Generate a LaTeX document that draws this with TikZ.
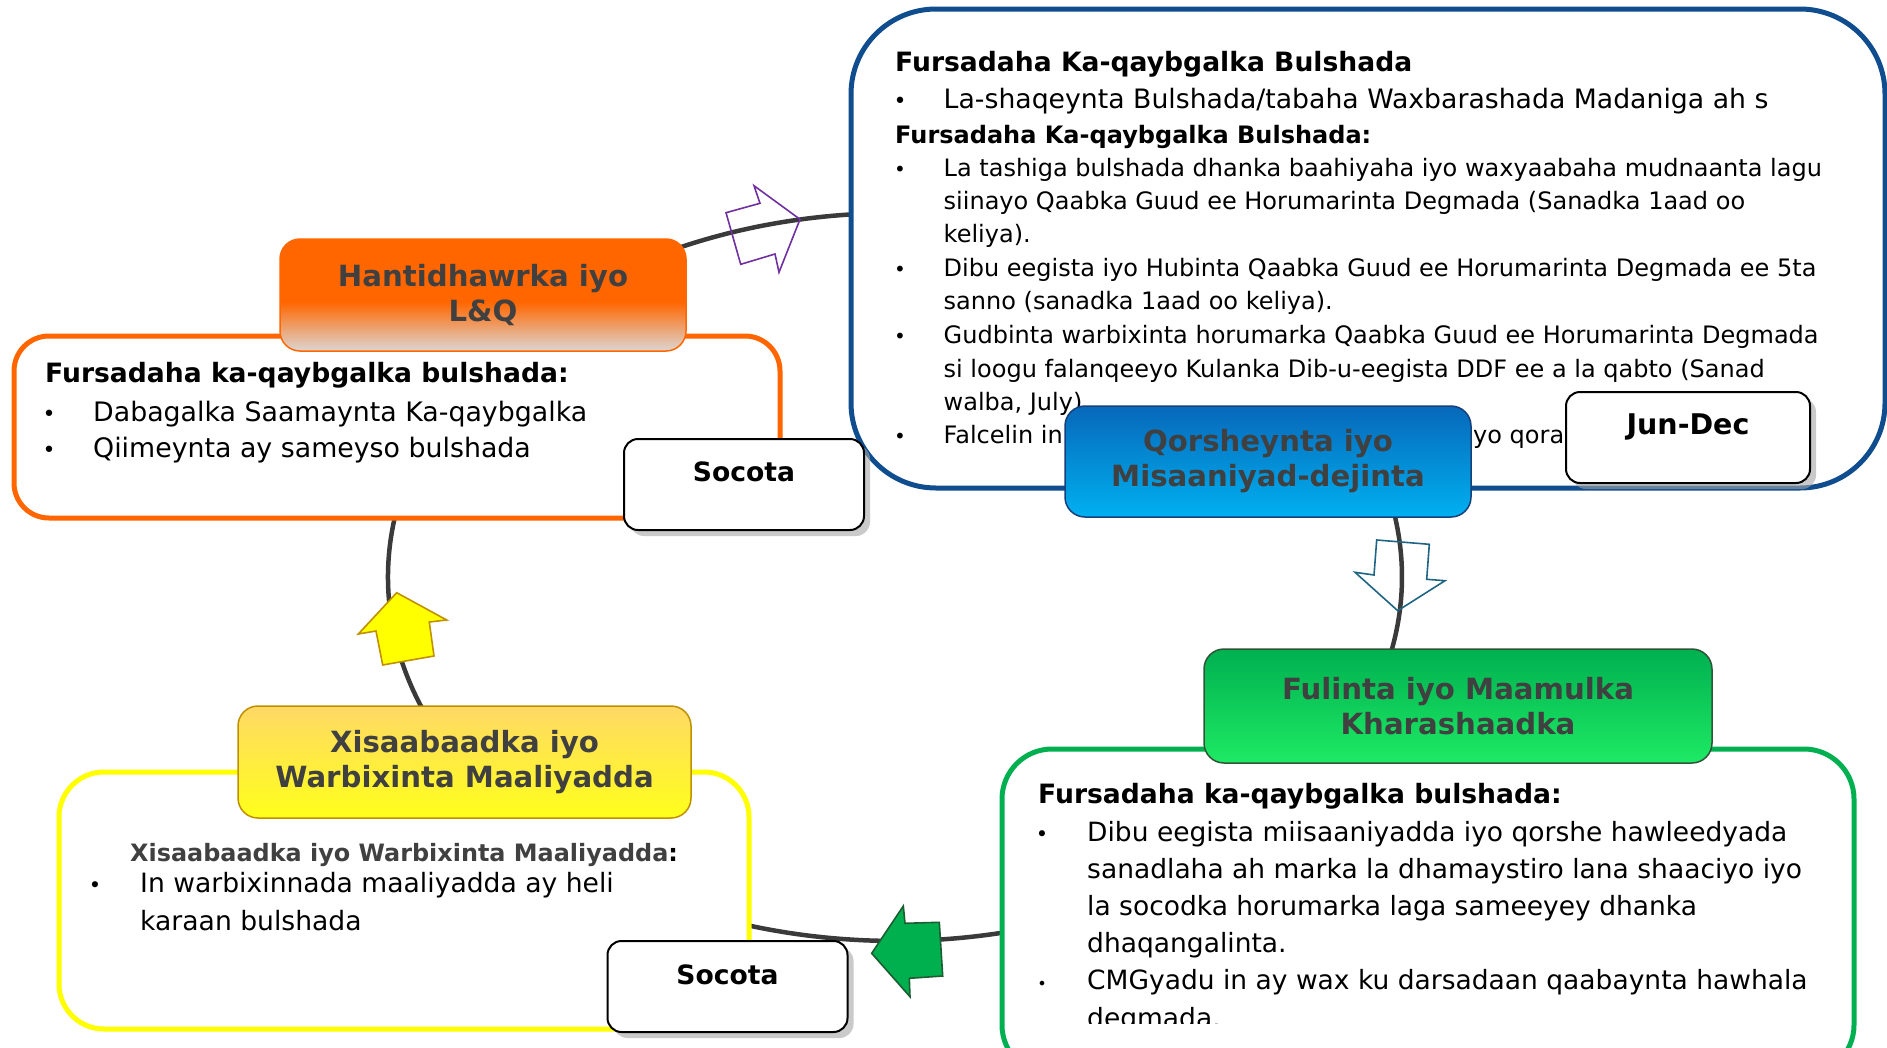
\documentclass[tikz,border=0pt]{standalone}
\usepackage{fontspec}
\setmainfont{DejaVu Sans}
\usetikzlibrary{shadows}
\definecolor{connc}{HTML}{3A3A3A}
\definecolor{bluebd}{HTML}{0F4D8F}
\definecolor{orangebd}{HTML}{FF6600}
\definecolor{orangelow}{HTML}{DCD6D2}
\definecolor{yellowbd}{HTML}{FFFF00}
\definecolor{greenbd}{HTML}{00B050}
\definecolor{titletext}{HTML}{404040}
\definecolor{bluetop}{HTML}{0768BA}
\definecolor{bluebot}{HTML}{00B0F0}
\definecolor{bluetbd}{HTML}{17407A}
\definecolor{greentop}{HTML}{00B050}
\definecolor{greenbot}{HTML}{1EEA64}
\definecolor{greentbd}{HTML}{2F5438}
\definecolor{yeltop}{HTML}{FFD966}
\definecolor{yelbot}{HTML}{FFFF1A}
\definecolor{yeltbd}{HTML}{BF9000}
\definecolor{purplearr}{HTML}{7030A0}
\definecolor{tealarr}{HTML}{1F6482}
\definecolor{greenarr}{HTML}{00B04F}
\definecolor{greenarrbd}{HTML}{1B5E32}
\pgfdeclareverticalshading{orangeshade}{100bp}{color(0bp)=(orangelow); color(25bp)=(orangelow); color(47bp)=(orangebd); color(100bp)=(orangebd)}
\begin{document}
\begin{tikzpicture}[x=1pt,y=-1pt,
  connline/.style={draw=connc, line width=4.5pt},
  contentbox/.style={draw, line width=5pt, fill=white, inner sep=0pt},
  titlebox/.style={rounded corners=20pt, line width=1.5pt, inner sep=0pt, align=center, text=titletext, font=\fontsize{29.2}{35}\selectfont\bfseries},
  sbox/.style={draw=black, line width=2pt, fill=white, rounded corners=14pt, minimum width=240pt, minimum height=91pt, inner sep=0pt,
     drop shadow={shadow xshift=6pt, shadow yshift=-6pt, fill=black!35, opacity=0.6}},
  slabel/.style={font=\fontsize{26.6}{30}\selectfont\bfseries, inner sep=0pt},
  hd/.style={anchor=base west, inner sep=0pt, font=\fontsize{26.6}{30}\selectfont\bfseries},
  tl/.style={anchor=base west, inner sep=0pt, font=\fontsize{#1}{30}\selectfont},
  bu/.style={anchor=base, inner sep=0pt, font=\fontsize{#1}{30}\selectfont},
  arrline/.style={line width=1.6pt, line join=miter}
]
\useasboundingbox (0,0) rectangle (1887,1047);
\clip (0,0) rectangle (1887,1047);

% connectors (parts of one large ellipse)
\coordinate (ea) at (641.5,261.8);
\coordinate (eb) at (1384.7,482.8);
\coordinate (ec) at (1068.4,919);
\coordinate (ed) at (455.9,759);
\draw[connline] (ea) arc[start angle=240, end angle=272, x radius=507, y radius=364];
\draw[connline] (eb) arc[start angle=345, end angle=380, x radius=507, y radius=364];
\draw[connline] (ec) arc[start angle=70, end angle=112, x radius=507, y radius=364];
\draw[connline] (ed) arc[start angle=150, end angle=200, x radius=507, y radius=364];

% content boxes
\node[contentbox, draw=bluebd, rounded corners=85pt, minimum width=1034pt, minimum height=479pt] (bbox) at (1368,248.5) {};
\node[contentbox, draw=orangebd, rounded corners=35pt, minimum width=766pt, minimum height=182pt] (obox) at (397,427) {};
\node[contentbox, draw=yellowbd, rounded corners=45pt, minimum width=690pt, minimum height=257pt] (ybox) at (404,900.5) {};
\node[contentbox, draw=greenbd, rounded corners=50pt, minimum width=852pt, minimum height=326pt] (gbox) at (1428,912) {};

% blue box text
\node[hd] (bh1) at (895,71) {Fursadaha Ka-qaybgalka Bulshada};
\node[bu=22] (bb1) at (900,108) {•};
\node[tl=26.7] (bl1) at (943.5,108) {La-shaqeynta Bulshada/tabaha Waxbarashada Madaniga ah s};
\node[hd, font=\fontsize{24}{30}\selectfont\bfseries] (bh2) at (895,143) {Fursadaha Ka-qaybgalka Bulshada:};
\node[bu=20] (bb2) at (900,176) {•};
\node[tl=24] (bl2) at (943.5,176) {La tashiga bulshada dhanka baahiyaha iyo waxyaabaha mudnaanta lagu};
\node[tl=24] (bl3) at (943.5,209.4) {siinayo Qaabka Guud ee Horumarinta Degmada (Sanadka 1aad oo};
\node[tl=24] (bl4) at (943.5,242.8) {keliya).};
\node[bu=20] (bb3) at (900,276.2) {•};
\node[tl=24] (bl5) at (943.5,276.2) {Dibu eegista iyo Hubinta Qaabka Guud ee Horumarinta Degmada ee 5ta};
\node[tl=24] (bl6) at (943.5,309.6) {sanno (sanadka 1aad oo keliya).};
\node[bu=20] (bb4) at (900,343) {•};
\node[tl=24] (bl7) at (943.5,343) {Gudbinta warbixinta horumarka Qaabka Guud ee Horumarinta Degmada};
\node[tl=24] (bl8) at (943.5,377.4) {si loogu falanqeeyo Kulanka Dib-u-eegista DDF ee a la qabto (Sanad};
\node[tl=24] (bl9) at (943.5,410.8) {walba, July).};
\node[bu=20] (bb5) at (900,443.5) {•};
\node[tl=24] (bl10) at (943.5,443.5) {Falcelin in};
\node[tl=24] (bl11) at (1473,443.5) {yo qoraa};

% orange box text
\node[hd] (oh1) at (45,382) {Fursadaha ka-qaybgalka bulshada:};
\node[bu=22] (ob1) at (49,421.5) {•};
\node[tl=26.8] (ol1) at (93,421.5) {Dabagalka Saamaynta Ka-qaybgalka};
\node[bu=22] (ob2) at (49,457.5) {•};
\node[tl=26.8] (ol2) at (93,457.5) {Qiimeynta ay sameyso bulshada};

% yellow box text
\node[hd, font=\fontsize{23.9}{30}\selectfont\bfseries, text=titletext] (yh1) at (130,861) {Xisaabaadka iyo Warbixinta Maaliyadda\textcolor{black}{:}};
\node[bu=21] (yb1) at (95,892.5) {•};
\node[tl=26.6] (yl1) at (140,892.5) {In warbixinnada maaliyadda ay heli};
\node[tl=26.6] (yl2) at (140,930.5) {karaan bulshada};

% green box text
\begin{scope}
\clip (1002,740) rectangle (1854,1023);
\node[hd] (gh1) at (1038,803) {Fursadaha ka-qaybgalka bulshada:};
\node[bu=21] (gb1) at (1042,841) {•};
\node[tl=26.5] (gl1) at (1087,841) {Dibu eegista miisaaniyadda iyo qorshe hawleedyada};
\node[tl=26.5] (gl2) at (1087,878.2) {sanadlaha ah marka la dhamaystiro lana shaaciyo iyo};
\node[tl=26.5] (gl3) at (1087,915.4) {la socodka horumarka laga sameeyey dhanka};
\node[tl=26.5] (gl4) at (1087,952.6) {dhaqangalinta.};
\node[bu=16] (gb2) at (1042,989.8) {•};
\node[tl=26.5] (gl5) at (1087,989.8) {CMGyadu in ay wax ku darsadaan qaabaynta hawhala};
\node[tl=26.5] (gl6) at (1087,1027) {degmada.};
\end{scope}

% title boxes
\node[titlebox, minimum width=406pt, minimum height=112pt, shading=orangeshade, draw=orangebd] (otitle) at (483,295) {Hantidhawrka iyo\\L\&Q};
\node[titlebox, minimum width=406pt, minimum height=111pt, top color=bluetop, bottom color=bluebot, draw=bluetbd] (btitle) at (1268,461.5) {Qorsheynta iyo\\Misaaniyad-dejinta};
\node[titlebox, minimum width=508pt, minimum height=114pt, top color=greentop, bottom color=greenbot, draw=greentbd] (gtitle) at (1458,706) {Fulinta iyo Maamulka\\Kharashaadka};
\node[titlebox, minimum width=453pt, minimum height=112pt, top color=yeltop, bottom color=yelbot, draw=yeltbd] (ytitle) at (464.5,762) {Xisaabaadka iyo\\Warbixinta Maaliyadda};

% status boxes
\node[sbox] (s1) at (744,484.5) {};
\node[slabel] (s1l) at (744,472) {Socota};
\node[sbox] (s2) at (727.5,986.5) {};
\node[slabel] (s2l) at (727.5,975) {Socota};
\node[sbox, minimum width=244pt] (s3) at (1688,437.5) {};
\node[slabel, font=\fontsize{28.5}{30}\selectfont\bfseries] (s3l) at (1688,427) {Jun-Dec};

% arrows
\draw[arrline, draw=purplearr] (800,219.3) -- (754,185.7) -- (760,203.3) -- (726,212.7) -- (740.7,264.3) -- (775,254) -- (779,272.3) -- cycle;
\draw[arrline, draw=tealarr] (1376.7,540) -- (1429.3,544.3) -- (1426.7,579.3) -- (1445,580.7) -- (1397.7,610.7) -- (1355,572.3) -- (1374,575) -- cycle;
\draw[arrline, draw=yeltbd, fill=yellowbd] (396.7,592.7) -- (446.7,620) -- (429.3,622) -- (434,656) -- (382.7,665) -- (376,631) -- (358.3,634) -- cycle;
\draw[arrline, draw=greenarrbd, fill=greenarr] (871.7,953.3) -- (903.3,906) -- (905,923.3) -- (939.3,922.3) -- (942.7,976) -- (909.3,978.3) -- (910,996.7) -- cycle;
\end{tikzpicture}
\end{document}
